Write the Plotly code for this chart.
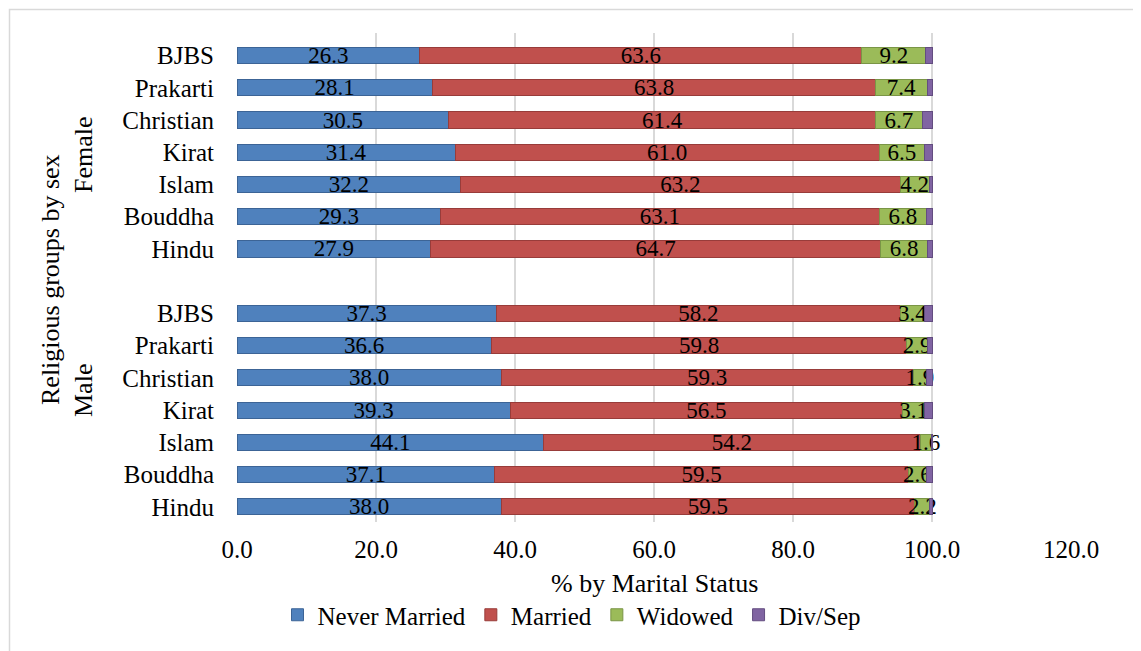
import plotly.graph_objects as go

# ---- data ----
religions = ["Hindu", "Bouddha", "Islam", "Kirat", "Christian", "Prakarti", "BJBS"]
groups = ["Male", "Female"]

male_never = [38.0, 37.1, 44.1, 39.3, 38.0, 36.6, 37.3]
male_married = [59.5, 59.5, 54.2, 56.5, 59.3, 59.8, 58.2]
male_widowed = [2.2, 2.6, 1.6, 3.1, 1.9, 2.9, 3.4]
male_divsep = [0.3, 0.8, 0.1, 1.1, 0.8, 0.7, 1.1]

female_never = [27.9, 29.3, 32.2, 31.4, 30.5, 28.1, 26.3]
female_married = [64.7, 63.1, 63.2, 61.0, 61.4, 63.8, 63.6]
female_widowed = [6.8, 6.8, 4.2, 6.5, 6.7, 7.4, 9.2]
female_divsep = [0.6, 0.8, 0.4, 1.1, 1.4, 0.7, 0.9]

series_names = ["Never Married", "Married", "Widowed", "Div/Sep"]
series_colors = ["#4F81BD", "#C0504D", "#9BBB59", "#8064A2"]
edge_colors = ["#3C6496", "#983C3A", "#7A9546", "#634D80"]
x_ticks = [0, 20, 40, 60, 80, 100, 120]

# ---- layout helpers (page body has an 8px margin) ----
OFF = 8
PAGE_W, PAGE_H = 1141, 651
W, H = PAGE_W - OFF, PAGE_H - OFF
L, R, T, B = 237 - OFF, PAGE_W - 1071, 33 - OFF, PAGE_H - 522
PW, PH = W - L - R, H - T - B


def px_x(p):
    return (p - OFF - L) / PW


def px_y(p):
    return (PAGE_H - B - p) / PH


# category positions: male group at bottom, one empty slot, female group on top
n = len(religions)
male_pos = list(range(n))
female_pos = [n + 1 + i for i in range(n)]
positions = male_pos + female_pos
labels = religions + religions

values = [
    male_never + female_never,
    male_married + female_married,
    male_widowed + female_widowed,
    male_divsep + female_divsep,
]

FONT = "Liberation Serif, Times New Roman, serif"

fig = go.Figure()
for name, vals, col, ecol in zip(series_names, values, series_colors, edge_colors):
    show_text = name != "Div/Sep"
    fig.add_trace(go.Bar(
        name=name,
        orientation="h",
        x=vals,
        y=positions,
        marker=dict(color=col, line=dict(color=ecol, width=1)),
        texttemplate="%{x:.1f}" if show_text else None,
        textposition="inside" if show_text else "none",
        insidetextanchor="middle",
        constraintext="none",
        textangle=0,
        textfont=dict(family=FONT, size=23, color="black"),
    ))

fig.update_layout(
    barmode="stack",
    bargap=0.5,
    width=W,
    height=H,
    margin=dict(l=L, r=R, t=T, b=B, autoexpand=False),
    paper_bgcolor="white",
    plot_bgcolor="white",
    font=dict(family=FONT, size=25, color="black"),
    showlegend=True,
    legend=dict(
        orientation="h",
        x=px_x(572), xanchor="center",
        y=px_y(615), yanchor="middle",
        font=dict(family=FONT, size=25, color="black"),
        traceorder="normal",
        itemwidth=30,
    ),
    xaxis=dict(
        range=[0, 120],
        tickvals=x_ticks,
        ticktext=[f"{v:.1f}" for v in x_ticks],
        showgrid=True,
        gridcolor="#D9D9D9",
        gridwidth=2,
        zeroline=False,
        showline=False,
        ticks="outside",
        ticklen=5,
        tickcolor="rgba(0,0,0,0)",
        tickfont=dict(family=FONT, size=25),
        fixedrange=True,
    ),
    yaxis=dict(
        range=[-0.47, 2 * n + 0.7],
        tickvals=positions,
        ticktext=labels,
        showgrid=False,
        zeroline=False,
        showline=False,
        ticks="outside",
        ticklen=17,
        tickcolor="rgba(0,0,0,0)",
        tickfont=dict(family=FONT, size=25),
        fixedrange=True,
    ),
    annotations=[
        dict(text="% by Marital Status", xref="paper", yref="paper",
             x=px_x(654), y=px_y(583), xanchor="center", yanchor="middle",
             showarrow=False, font=dict(family=FONT, size=26)),
        dict(text="Religious groups by sex", xref="paper", yref="paper",
             x=px_x(50), y=px_y(280), xanchor="center", yanchor="middle",
             textangle=-90, showarrow=False, font=dict(family=FONT, size=26)),
        dict(text="Female", xref="paper", yref="paper",
             x=px_x(83), y=px_y(155), xanchor="center", yanchor="middle",
             textangle=-90, showarrow=False, font=dict(family=FONT, size=26)),
        dict(text="Male", xref="paper", yref="paper",
             x=px_x(83), y=px_y(391), xanchor="center", yanchor="middle",
             textangle=-90, showarrow=False, font=dict(family=FONT, size=26)),
    ],
    shapes=[
        dict(type="rect", xref="paper", yref="paper",
             x0=px_x(OFF + 1.5), x1=px_x(1139), y0=px_y(PAGE_H + 20), y1=px_y(OFF + 1.5),
             line=dict(color="#D9D9D9", width=1.5), fillcolor="rgba(0,0,0,0)",
             layer="below"),
    ],
)

fig.write_html("out.html")
